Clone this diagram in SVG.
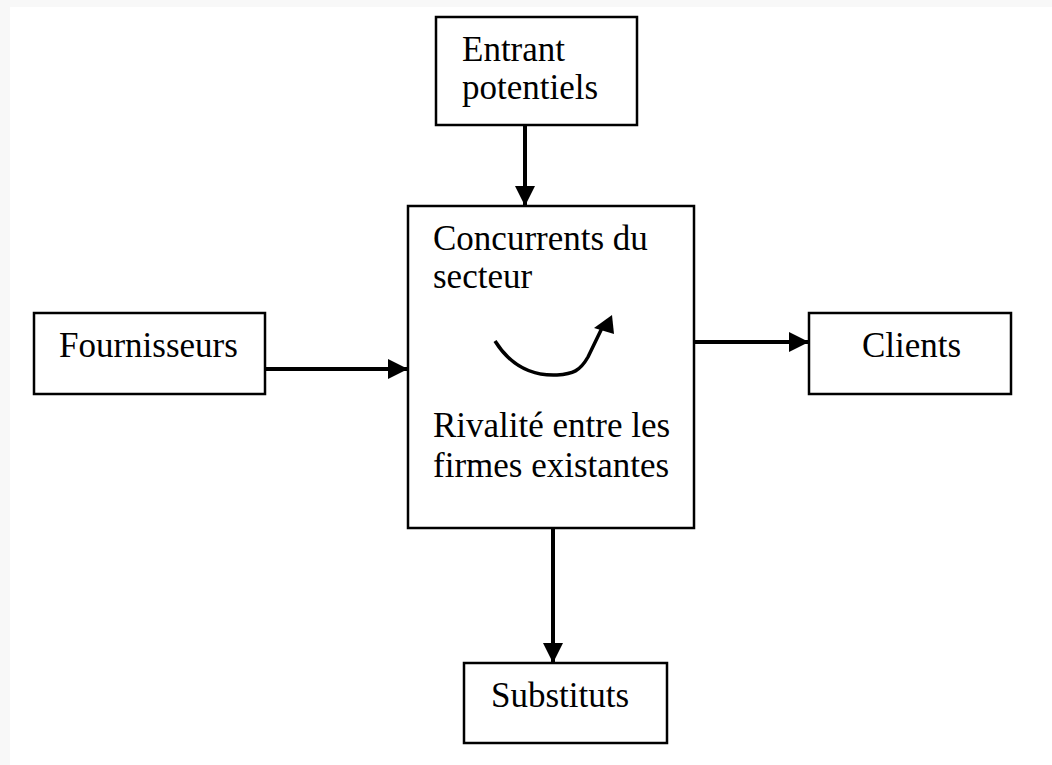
<svg xmlns="http://www.w3.org/2000/svg" width="1052" height="765" viewBox="0 0 1052 765">
<defs>
<style>
.box{fill:#fff;stroke:#000;stroke-width:2.5}
.t{font-family:"Liberation Serif","Times New Roman",serif;font-size:35px;fill:#000}
.c{stroke:#000;stroke-width:4;fill:none}
</style>
<marker id="ah" markerWidth="5" markerHeight="5" refX="5" refY="2.5" orient="auto" markerUnits="strokeWidth">
<path d="M0,0 L5,2.5 L0,5 Z" fill="#000"/>
</marker>
</defs>
<rect width="1052" height="765" fill="#f8f8f8"/>
<rect x="10" y="7" width="1042" height="758" fill="#fff"/>
<g id="entrants">
<rect class="box" x="436" y="17" width="201" height="108"/>
<text class="t" x="462" y="61">Entrant</text>
<text class="t" x="462" y="99">potentiels</text>
</g>
<g id="concurrents">
<rect class="box" x="408" y="206" width="286" height="322"/>
<text class="t" x="433" y="250">Concurrents du</text>
<text class="t" x="433" y="288">secteur</text>
<text class="t" x="433" y="437">Rivalité entre les</text>
<text class="t" x="433" y="477">firmes existantes</text>
<path d="M495,341 C512,368 535,376 557,375 C573,374 580,371 588,357 L602,328" fill="none" stroke="#000" stroke-width="3.5"/>
<polygon points="612,315 594,328 614,334" fill="#000"/>
</g>
<g id="fournisseurs">
<rect class="box" x="34" y="313" width="231" height="81"/>
<text class="t" x="59" y="357">Fournisseurs</text>
</g>
<g id="clients">
<rect class="box" x="809" y="313" width="202" height="81"/>
<text class="t" x="862" y="357">Clients</text>
</g>
<g id="substituts">
<rect class="box" x="464" y="663" width="203" height="80"/>
<text class="t" x="491" y="707">Substituts</text>
</g>
<g id="connectors">
<line class="c" x1="525" y1="125" x2="525" y2="206" marker-end="url(#ah)"/>
<line class="c" x1="265" y1="369" x2="408" y2="369" marker-end="url(#ah)"/>
<line class="c" x1="694" y1="342" x2="809" y2="342" marker-end="url(#ah)"/>
<line class="c" x1="553" y1="528" x2="553" y2="663" marker-end="url(#ah)"/>
</g>
</svg>
